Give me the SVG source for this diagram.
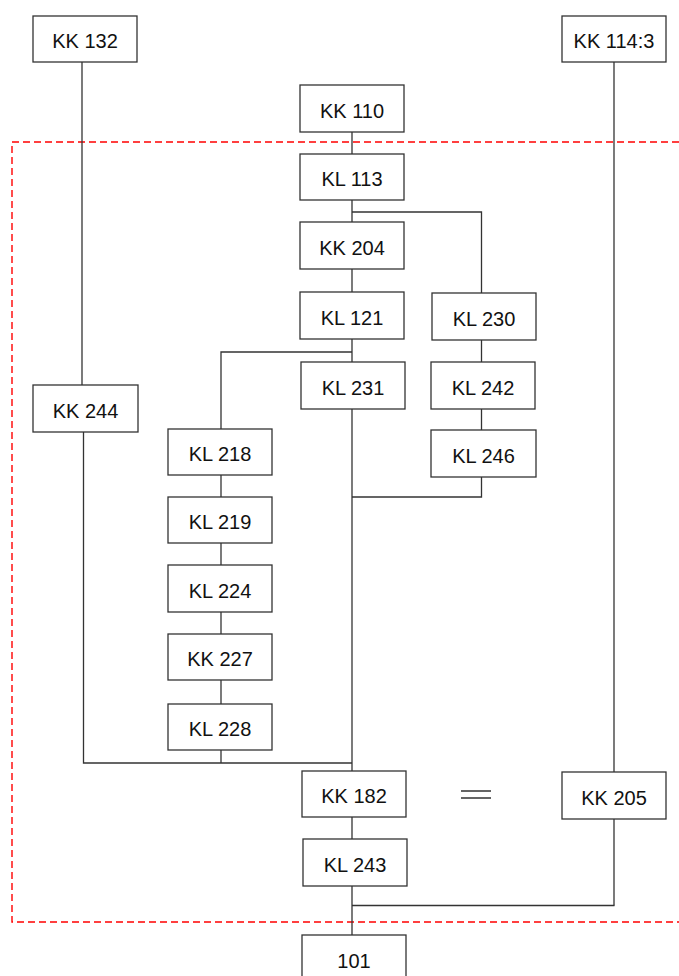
<svg xmlns="http://www.w3.org/2000/svg" width="679" height="976" viewBox="0 0 679 976">
<style>
.box rect{fill:#fff;stroke:#333;stroke-width:1.3}
.box text{font-family:"Liberation Sans",Arial,sans-serif;font-size:20px;fill:#111;text-anchor:middle}
.conn path{fill:none;stroke:#333;stroke-width:1.3}
.region{fill:none;stroke:#f00;stroke-width:1.4;stroke-dasharray:7 4}
</style>
<rect width="679" height="976" fill="#fff"/>
<path class="region" d="M679,142 H12 V922 H679"/>
<g class="conn">
<path d="M82,62 V385"/>
<path d="M83.5,432 V763 H352"/>
<path d="M614,62 V772"/>
<path d="M352,132 V154"/>
<path d="M352,200 V222"/>
<path d="M352,212 H481.5 V293"/>
<path d="M352,269 V292"/>
<path d="M352,339 V362"/>
<path d="M352,352 H221 V429"/>
<path d="M221,475 V497"/>
<path d="M221,543 V565"/>
<path d="M221,612 V634"/>
<path d="M221,680 V704"/>
<path d="M221,750 V763"/>
<path d="M352,409 V771"/>
<path d="M481.5,340 V362"/>
<path d="M481.5,409 V430"/>
<path d="M481.5,477 V497 H352"/>
<path d="M352,817 V839"/>
<path d="M352,886 V935"/>
<path d="M352,905.5 H614.5"/>
<path d="M614,819 V905.5"/>
<path d="M461,791 H491 M461,798 H491"/>
</g>
<g id="kk132" class="box"><rect x="33" y="16" width="104" height="46"/><text x="85" y="48">KK 132</text></g>
<g id="kk114-3" class="box"><rect x="562" y="16" width="104" height="46"/><text x="614" y="48">KK 114:3</text></g>
<g id="kk110" class="box"><rect x="300" y="85" width="104" height="47"/><text x="352" y="117.5">KK 110</text></g>
<g id="kl113" class="box"><rect x="300" y="154" width="104" height="46"/><text x="352" y="186">KL 113</text></g>
<g id="kk204" class="box"><rect x="300" y="222" width="104" height="47"/><text x="352" y="254.5">KK 204</text></g>
<g id="kl121" class="box"><rect x="300" y="292" width="104" height="47"/><text x="352" y="324.5">KL 121</text></g>
<g id="kl230" class="box"><rect x="432" y="293" width="104" height="47"/><text x="484" y="325.5">KL 230</text></g>
<g id="kl231" class="box"><rect x="301" y="362" width="104" height="47"/><text x="353" y="394.5">KL 231</text></g>
<g id="kl242" class="box"><rect x="431" y="362" width="104" height="47"/><text x="483" y="394.5">KL 242</text></g>
<g id="kk244" class="box"><rect x="33" y="385" width="105" height="47"/><text x="85.5" y="417.5">KK 244</text></g>
<g id="kl218" class="box"><rect x="168" y="429" width="104" height="46"/><text x="220" y="461">KL 218</text></g>
<g id="kl246" class="box"><rect x="431" y="430" width="105" height="47"/><text x="483.5" y="462.5">KL 246</text></g>
<g id="kl219" class="box"><rect x="168" y="497" width="104" height="46"/><text x="220" y="529">KL 219</text></g>
<g id="kl224" class="box"><rect x="168" y="565" width="104" height="47"/><text x="220" y="597.5">KL 224</text></g>
<g id="kk227" class="box"><rect x="168" y="634" width="104" height="46"/><text x="220" y="666">KK 227</text></g>
<g id="kl228" class="box"><rect x="168" y="704" width="104" height="46"/><text x="220" y="736">KL 228</text></g>
<g id="kk182" class="box"><rect x="302" y="771" width="104" height="46"/><text x="354" y="803">KK 182</text></g>
<g id="kk205" class="box"><rect x="562" y="772" width="104" height="47"/><text x="614" y="804.5">KK 205</text></g>
<g id="kl243" class="box"><rect x="303" y="839" width="104" height="47"/><text x="355" y="871.5">KL 243</text></g>
<g id="n101" class="box"><rect x="302" y="935" width="104" height="47"/><text x="354" y="967.5">101</text></g>
</svg>
